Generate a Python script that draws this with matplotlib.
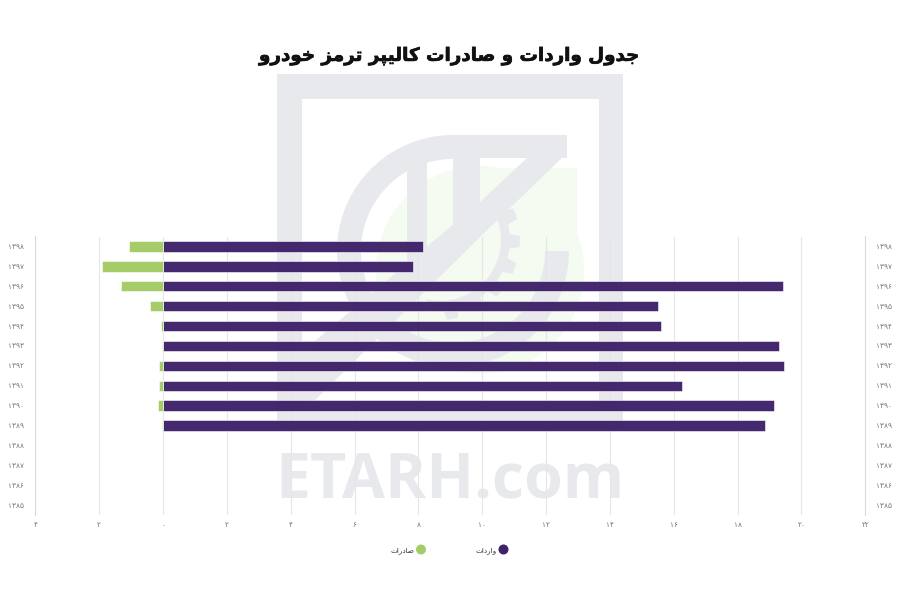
import numpy as np
import matplotlib
matplotlib.use("Agg")
import matplotlib.pyplot as plt
import matplotlib.patheffects as pe
from matplotlib.patches import Circle, Polygon, Rectangle, Wedge

years = ["۱۳۹۸", "۱۳۹۷", "۱۳۹۶", "۱۳۹۵", "۱۳۹۴", "۱۳۹۳", "۱۳۹۲",
         "۱۳۹۱", "۱۳۹۰", "۱۳۸۹", "۱۳۸۸", "۱۳۸۷", "۱۳۸۶", "۱۳۸۵"]
imports = [8.16, 7.82, 19.41, 15.52, 15.6, 19.31, 19.45, 16.26, 19.14, 18.86]
exports = [1.05, 1.9, 1.3, 0.41, 0.05, 0.02, 0.12, 0.12, 0.15, 0.03]
x_ticks = [-4, -2, 0, 2, 4, 6, 8, 10, 12, 14, 16, 18, 20, 22]
x_labels = ["۴", "۲", "۰", "۲", "۴", "۶", "۸", "۱۰", "۱۲", "۱۴", "۱۶", "۱۸", "۲۰", "۲۲"]

title = "جدول واردات و صادرات کالیپر ترمز خودرو"
imports_name = "واردات"
exports_name = "صادرات"

PURPLE = "#3f2269"
GREEN = "#a5cc69"
WM_GRAY = "#e8e9ed"
WM_GREEN = "#f4fbf1"

# matplotlib does no arabic shaping, so pick the presentation forms by hand
# letter: isolated, final, initial, medial
FORMS = {
    "ج": "\uFE9D\uFE9E\uFE9F\uFEA0", "خ": "\uFEA5\uFEA6\uFEA7\uFEA8",
    "ت": "\uFE95\uFE96\uFE97\uFE98", "ص": "\uFEB9\uFEBA\uFEBB\uFEBC",
    "ل": "\uFEDD\uFEDE\uFEDF\uFEE0", "م": "\uFEE1\uFEE2\uFEE3\uFEE4",
    "ک": "\uFB8E\uFB8F\uFB90\uFB91", "ی": "\uFBFC\uFBFD\uFBFE\uFBFF",
    "پ": "\uFB56\uFB57\uFB58\uFB59",
    "د": "\uFEA9\uFEAA", "ر": "\uFEAD\uFEAE", "ز": "\uFEAF\uFEB0",
    "و": "\uFEED\uFEEE", "ا": "\uFE8D\uFE8E",
}


def shape(text):
    out = []
    for i, ch in enumerate(text):
        if ch not in FORMS:
            out.append(ch)
            continue
        prev = text[i - 1] if i > 0 else " "
        nxt = text[i + 1] if i + 1 < len(text) else " "
        joins_prev = prev in FORMS and len(FORMS[prev]) == 4
        joins_next = nxt in FORMS and len(FORMS[ch]) == 4
        forms = FORMS[ch]
        if joins_prev and joins_next:
            out.append(forms[3])
        elif joins_prev:
            out.append(forms[1])
        elif joins_next:
            out.append(forms[2])
        else:
            out.append(forms[0])
    return "".join(out)[::-1]


fig = plt.figure(figsize=(9, 6), dpi=100, facecolor="white")

# watermark, drawn in pixel coordinates behind the chart
bg = fig.add_axes([0, 0, 1, 1], zorder=0)
bg.set_xlim(0, 900)
bg.set_ylim(600, 0)
bg.axis("off")

bg.add_patch(Circle((480, 270), 104, color=WM_GREEN, lw=0))
bg.add_patch(Rectangle((480, 168), 97, 102, color=WM_GREEN, lw=0))

# gear teeth along the end of the wrench
teeth = np.arange(-25, 95, 20)
rim = []
for t in teeth:
    for a, r in [(t, 70), (t + 2, 80), (t + 10, 80), (t + 12, 70)]:
        rim.append((440 + r * np.cos(np.radians(a)), 240 + r * np.sin(np.radians(a))))
inner = [(440 + 61 * np.cos(np.radians(a)), 240 + 61 * np.sin(np.radians(a)))
         for a in np.arange(105, -26, -10)]
bg.add_patch(Polygon(rim + inner, closed=True, color=WM_GRAY, lw=0))

# frame
bg.add_patch(Rectangle((277, 74), 346, 25, color=WM_GRAY, lw=0))
bg.add_patch(Rectangle((277, 406), 346, 23, color=WM_GRAY, lw=0))
bg.add_patch(Rectangle((277, 74), 25, 355, color=WM_GRAY, lw=0))
bg.add_patch(Rectangle((599, 74), 24, 355, color=WM_GRAY, lw=0))

# arc, stems and the diagonal of the logo
bg.add_patch(Wedge((453, 251), 116, 0, 270, width=24, color=WM_GRAY, lw=0))
bg.add_patch(Rectangle((453, 135), 114, 23, color=WM_GRAY, lw=0))
bg.add_patch(Rectangle((407, 150), 20, 115, color=WM_GRAY, lw=0))
bg.add_patch(Rectangle((453, 158), 27, 75, color=WM_GRAY, lw=0))
bg.add_patch(Polygon([(527, 135), (567, 135), (567, 153), (480, 237), (290, 425),
                      (277, 425), (277, 373), (480, 202), (527, 158)],
                     closed=True, color=WM_GRAY, lw=0))

bg.text(450, 498, "ETARH.com", family="Open Sans", weight="bold", fontsize=45,
        color=WM_GRAY, ha="center", va="baseline")

# chart
ax = fig.add_axes([35.3 / 900, 1 - 515 / 600, 830 / 900, 278.5 / 600], zorder=1)
ax.patch.set_alpha(0)

y = np.arange(len(years))
ax.barh(y[:len(imports)], imports, height=0.52, color=PURPLE, alpha=0.97,
        edgecolor="white", linewidth=0.4, zorder=3)
ax.barh(y[:len(exports)], -np.array(exports), height=0.52, color=GREEN,
        edgecolor="white", linewidth=0.4, zorder=3)

ax.set_xlim(-4, 22)
ax.set_ylim(len(years) - 0.5, -0.5)
ax.set_xticks(x_ticks, x_labels)
ax.set_yticks(y, years)
ax.tick_params(axis="x", length=0, pad=5, labelsize=5.3, labelcolor="#777777")
ax.tick_params(axis="y", length=0, pad=8, labelsize=5.3, labelcolor="#777777",
               labelright=True)
ax.grid(axis="x", color="#e6e6ea", linewidth=0.8, zorder=1)
ax.set_axisbelow(True)

for side in ["top", "bottom"]:
    ax.spines[side].set_visible(False)
for side in ["left", "right"]:
    ax.spines[side].set_color("#d3dbe7")
    ax.spines[side].set_linewidth(0.8)

fig.text(450 / 900, 1 - 56 / 600, shape(title), family="DejaVu Sans", weight="bold",
         fontsize=13.2, color="#111111", ha="center", va="center",
         path_effects=[pe.withStroke(linewidth=0.5, foreground="#111111")])

# legend, marker on the right of each label as in rtl layouts
for cx, color, name in [(503.5, PURPLE, imports_name), (421, GREEN, exports_name)]:
    bg.add_patch(Circle((cx, 549.5), 5, color=color, lw=0))
    bg.text(cx - 7, 551, shape(name), family="DejaVu Sans", fontsize=5.2,
            color="#333333", ha="right", va="center")

fig.savefig("out.png", dpi=100)
